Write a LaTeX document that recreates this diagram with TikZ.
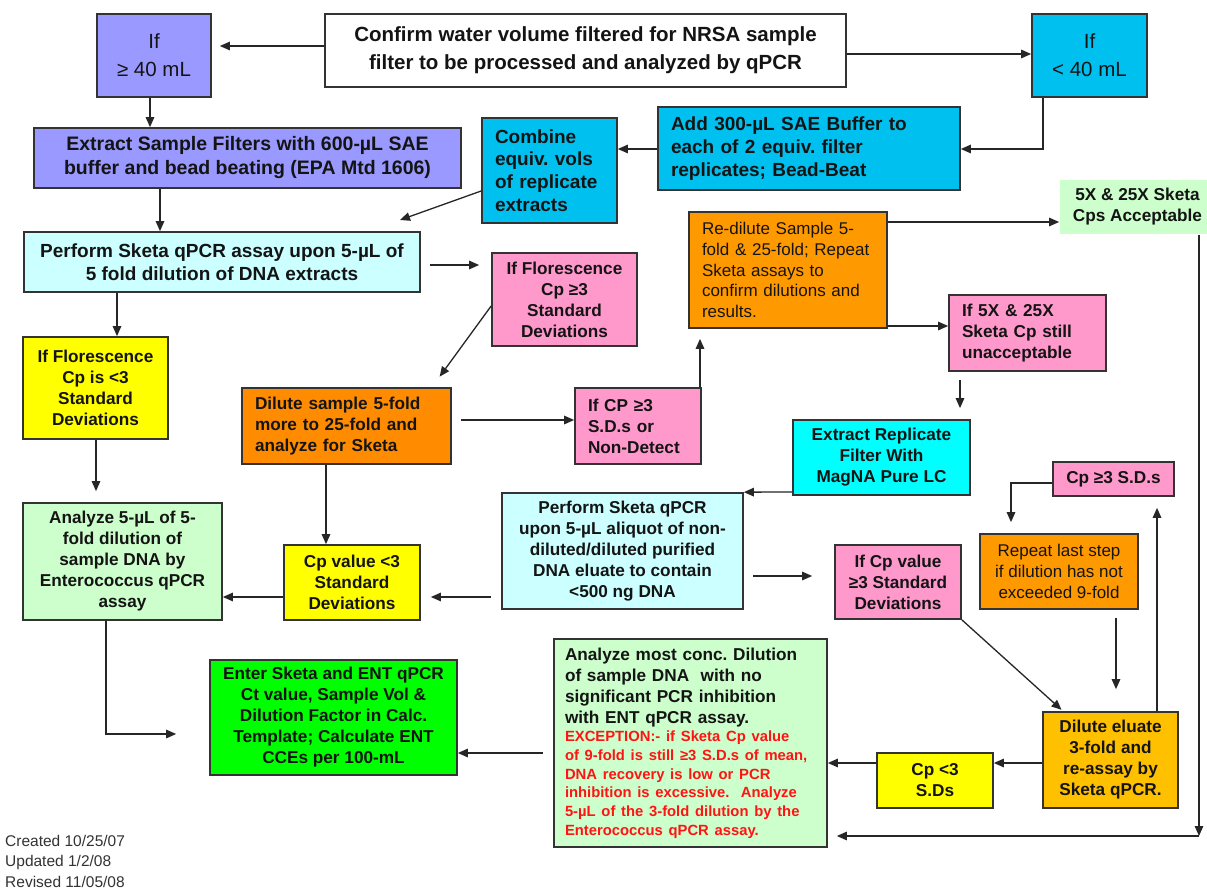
\documentclass[tikz,border=0pt]{standalone}
\usepackage{fontspec}
\setmainfont{Liberation Sans}
\usetikzlibrary{arrows.meta}
\definecolor{lav}{RGB}{153,153,255}
\definecolor{sky}{RGB}{0,192,240}
\definecolor{lcyan}{RGB}{204,255,255}
\definecolor{pinkbx}{RGB}{255,153,204}
\definecolor{orangebx}{RGB}{255,153,0}
\definecolor{orangedk}{RGB}{255,140,0}
\definecolor{yellowbx}{RGB}{255,255,0}
\definecolor{lgreen}{RGB}{204,255,204}
\definecolor{greenbx}{RGB}{0,255,0}
\definecolor{cyanbx}{RGB}{0,255,255}
\definecolor{goldbx}{RGB}{255,192,0}
\definecolor{redtxt}{RGB}{255,20,20}
\newcommand{\fStd}{\bfseries\fontsize{17.2}{21}\selectfont}
\newcommand{\fBig}{\bfseries\fontsize{20.5}{28}\selectfont}
\newcommand{\fIf}{\mdseries\fontsize{20.5}{28}\selectfont}
\newcommand{\fMid}{\bfseries\fontsize{19}{22.7}\selectfont}
\newcommand{\fExt}{\bfseries\fontsize{19.5}{24}\selectfont}
\newcommand{\fReg}{\mdseries\fontsize{17}{20.8}\selectfont}
\newcommand{\fRed}{\bfseries\fontsize{14.8}{18.7}\selectfont}
\newcommand{\fNote}{\mdseries\fontsize{15.5}{20.5}\selectfont}
\newcommand{\mkbox}[7]{%
  \pgfmathsetmacro{\bxw}{#4-#2}%
  \pgfmathsetmacro{\bxh}{#5-#3}%
  \node[bx, minimum width=\bxw pt, minimum height=\bxh pt, #6] (#1) at ({(#2+#4)/2},{(#3+#5)/2}) {#7};}
\tikzset{
  bx/.style={draw=black!80, line width=1.7pt, inner xsep=13pt, inner ysep=0pt,
    text=black!92, align=center, font=\fStd},
  lft/.style={align=left, text width=#1},
  arr/.style={draw=black!85, line width=1.3pt, -{Triangle[length=10pt,width=8.5pt]}},
}
\begin{document}
\frenchspacing
\begin{tikzpicture}[x=1pt,y=-1pt]
\useasboundingbox (0,0) rectangle (1207,888);
\fill[white] (0,0) rectangle (1207,888);

\mkbox{ifge}{97}{14}{211}{97}{fill=lav, font=\fIf}{If\\≥ 40 mL}
\mkbox{confirm}{325}{14}{846}{87}{fill=white, font=\fBig}{Confirm water volume filtered for NRSA sample\\filter to be processed and analyzed by qPCR}
\mkbox{iflt}{1032}{14}{1147}{97}{fill=sky, font=\fIf}{If\\< 40 mL}
\mkbox{extract}{34}{128}{461}{188}{fill=lav, font=\fExt}{Extract Sample Filters with 600-µL SAE\\buffer and bead beating (EPA Mtd 1606)}
\mkbox{combine}{482}{118}{617}{223}{fill=sky, font=\fMid, lft=109pt}{Combine\\equiv. vols\\of replicate\\extracts}
\mkbox{add}{658}{107}{960}{190}{fill=sky, font=\fMid, lft=276pt}{Add 300-µL SAE Buffer to\\each of 2 equiv. filter\\replicates; Bead-Beat}
\mkbox{accept}{1063}{180}{1212}{234}{fill=lgreen, draw=none}{5X \& 25X Sketa\\Cps Acceptable}
\mkbox{perform}{24}{232}{420}{292}{fill=lcyan, font=\fMid}{Perform Sketa qPCR assay upon 5-µL of\\5 fold dilution of DNA extracts}
\mkbox{flor3}{492}{253}{637}{346}{fill=pinkbx}{If Florescence\\Cp ≥3\\Standard\\Deviations}
\mkbox{redilute}{689}{212}{887}{328}{fill=orangebx, font=\fReg, lft=172pt}{Re-dilute Sample 5-\\fold \& 25-fold; Repeat\\Sketa assays to\\confirm dilutions and\\results.}
\mkbox{unacc}{949}{295}{1106}{371}{fill=pinkbx, lft=131pt}{If 5X \& 25X\\Sketa Cp still\\unacceptable}
\mkbox{flor1}{23}{337}{168}{439}{fill=yellowbx}{If Florescence\\Cp is <3\\Standard\\Deviations}
\mkbox{dilute5}{242}{388}{451}{464}{fill=orangedk, lft=183pt}{Dilute sample 5-fold\\more to 25-fold and\\analyze for Sketa}
\mkbox{ifcp}{575}{388}{701}{464}{fill=pinkbx, lft=100pt}{If CP ≥3\\S.D.s or\\Non-Detect}
\mkbox{extrep}{793}{420}{970}{495}{fill=cyanbx}{Extract Replicate\\Filter With\\MagNA Pure LC}
\mkbox{cpsd}{1053}{462}{1174}{496}{fill=pinkbx}{Cp ≥3 S.D.s}
\mkbox{performup}{502}{493}{743}{609}{fill=lcyan}{Perform Sketa qPCR\\upon 5-µL aliquot of non-\\diluted/diluted purified\\DNA eluate to contain\\<500 ng DNA}
\mkbox{ifcpval}{835}{545}{961}{619}{fill=pinkbx}{If Cp value\\≥3 Standard\\Deviations}
\mkbox{repeat}{980}{534}{1138}{609}{fill=orangebx, font=\fReg}{Repeat last step\\if dilution has not\\exceeded 9-fold}
\mkbox{analyze5}{23}{503}{222}{620}{fill=lgreen}{Analyze 5-µL of 5-\\fold dilution of\\sample DNA by\\Enterococcus qPCR\\assay}
\mkbox{cpval3}{284}{545}{420}{620}{fill=yellowbx}{Cp value <3\\Standard\\Deviations}
\mkbox{enter}{210}{660}{457}{775}{fill=greenbx}{Enter Sketa and ENT qPCR\\Ct value, Sample Vol \&\\Dilution Factor in Calc.\\Template; Calculate ENT\\CCEs per 100-mL}
\mkbox{analyzemost}{554}{639}{827}{847}{fill=lgreen, inner xsep=11pt, lft=251pt}{{\fStd Analyze most conc. Dilution\\of sample DNA\ \ with no\\significant PCR inhibition\\with ENT qPCR assay.\par}{\color{redtxt}\fRed EXCEPTION:- if Sketa Cp value\\of 9-fold is still ≥3 S.D.s of mean,\\DNA recovery is low or PCR\\inhibition is excessive.\ \ Analyze\\5-µL of the 3-fold dilution by the\\Enterococcus qPCR assay.\par}}
\mkbox{cp3sds}{877}{753}{993}{808}{fill=yellowbx}{Cp <3\\S.Ds}
\mkbox{dilel}{1043}{712}{1178}{808}{fill=goldbx}{Dilute eluate\\3-fold and\\re-assay by\\Sketa qPCR.}

\node[anchor=west, align=left, inner sep=0pt, font=\fNote, text=black!80] (notes) at (5,861) {Created 10/25/07\\Updated 1/2/08\\Revised 11/05/08};

\draw[arr, shorten >=8pt] (confirm.west |- 0,46) -- (ifge.east |- 0,46);
\draw[arr] (confirm.east |- 0,54) -- (iflt.west |- 0,54);
\draw[arr] (ifge.south -| 150,0) -- (extract.north -| 150,0);
\draw[arr] (iflt.south -| 1043,0) |- (add.east |- 0,149);
\draw[arr] (add.west |- 0,149) -- (combine.east |- 0,149);
\draw[arr] (extract.south -| 160,0) -- (perform.north -| 160,0);
\coordinate (gEnd) at (400,220);
\draw[arr] (combine.west |- 0,191) -- (gEnd);
\draw[arr, shorten <=9pt, shorten >=12pt] (perform.east |- 0,265) -- (flor3.west |- 0,265);
\draw[arr, shorten >=13pt] (flor3.west |- 0,306) -- (dilute5.north -| 432,0);
\draw[arr] (perform.south -| 117,0) -- (flor1.north -| 117,0);
\draw[arr, shorten >=11pt] (flor1.south -| 96,0) -- (analyze5.north -| 96,0);
\draw[arr, shorten <=9pt] (dilute5.east |- 0,420) -- (ifcp.west |- 0,420);
\draw[arr] (dilute5.south -| 326,0) -- (cpval3.north -| 326,0);
\draw[arr, shorten >=10pt] (ifcp.north -| 700,0) -- (redilute.south -| 700,0);
\draw[arr] (redilute.east |- 0,222) -- (accept.west |- 0,222);
\draw[arr] (redilute.east |- 0,326) -- (unacc.west |- 0,326);
\draw[arr, shorten <=8pt, shorten >=11pt] (unacc.south -| 960,0) -- (extrep.north -| 960,0);
\draw[arr] (extrep.west |- 0,492) -- (performup.north east);
\draw[arr, shorten <=9pt, shorten >=22pt] (performup.east |- 0,576) -- (ifcpval.west |- 0,576);
\draw[arr, shorten <=10pt, shorten >=10pt] (performup.west |- 0,597) -- (cpval3.east |- 0,597);
\draw[arr] (cpval3.west |- 0,597) -- (analyze5.east |- 0,597);
\draw[arr, shorten >=33pt] (analyze5.south -| 106,0) |- (enter.west |- 0,734);
\draw[arr, shorten <=10pt] (analyzemost.west |- 0,753) -- (enter.east |- 0,753);
\draw[arr] (dilel.west |- 0,763) -- (cp3sds.east |- 0,763);
\draw[arr] (cp3sds.west |- 0,763) -- (analyzemost.east |- 0,763);
\draw[arr, shorten >=2pt] (ifcpval.south east) -- (dilel.north -| 1063,0);
\draw[arr, shorten <=8pt, shorten >=22pt] (repeat.south -| 1116,0) -- (dilel.north -| 1116,0);
\draw[arr, shorten >=11pt] (dilel.north -| 1157,0) -- (cpsd.south -| 1157,0);
\draw[arr, shorten >=11pt] (cpsd.west |- 0,483) -| (repeat.north -| 1011,0);
\coordinate (corner) at (1199,836);
\draw[arr] (accept.south -| 1199,0) -- (corner);
\draw[arr, shorten >=9pt] (corner) -- (analyzemost.east |- corner);
\end{tikzpicture}
\end{document}
